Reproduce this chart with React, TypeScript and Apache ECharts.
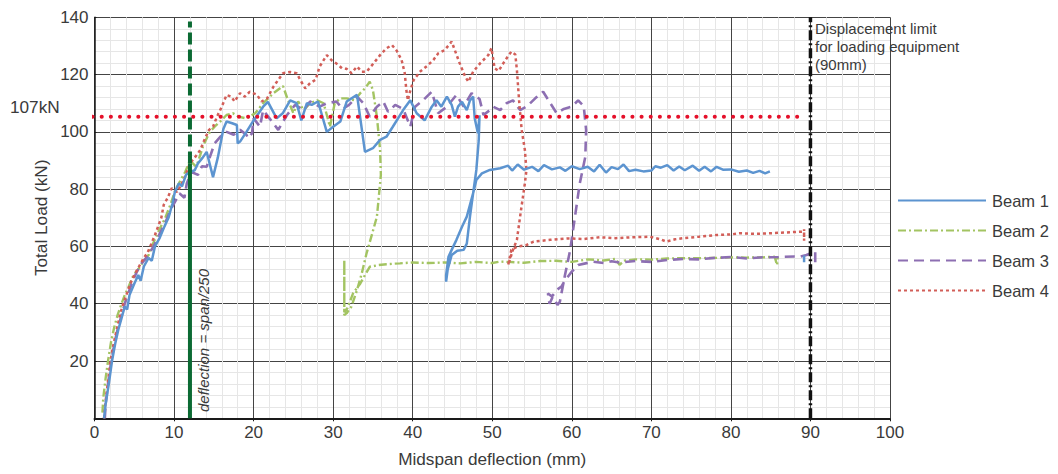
import React, { useEffect, useRef } from "react";
import * as echarts from "echarts";

const xTicks = [0, 10, 20, 30, 40, 50, 60, 70, 80, 90, 100];
const yTicks = [20, 40, 60, 80, 100, 120, 140];
const seriesNames = ["Beam 1", "Beam 2", "Beam 3", "Beam 4"];

const beam1: any[] = [
  [1.2, 0], [1.4, 5], [1.8, 12], [2.2, 20], [2.6, 26], [3.0, 31], [3.4, 35], [3.8, 39], [4.1, 38], [4.4, 43],
  [5.0, 47], [5.5, 50], [5.8, 48], [6.2, 53], [6.8, 56], [7.2, 55], [7.6, 60], [8.2, 63], [8.8, 67], [9.3, 70],
  [9.8, 75], [10.1, 79], [10.6, 82], [11.0, 81], [11.5, 85], [12.0, 86], [12.6, 86.6], [13.0, 89], [13.6, 91],
  [14.1, 93], [14.9, 84.2], [15.5, 91], [16.2, 101], [16.6, 103.6], [17.3, 103], [17.9, 102.4], [18.0, 96],
  [18.3, 96.6], [19.1, 100], [20.0, 104], [21.2, 108.8], [21.8, 110.5], [22.9, 104.7], [23.7, 106.6], [24.6, 111],
  [25.4, 110], [26.0, 104], [26.7, 110], [27.3, 109.4], [28.1, 110.6], [29.2, 100], [30.0, 101.8], [30.9, 103.6],
  [31.7, 110.6], [33.0, 112.9], [34.0, 93], [35.0, 94.3], [35.9, 97.2], [36.7, 98.3], [37.5, 101.8], [38.8, 107.6],
  [39.7, 111], [40.5, 106.5], [41.5, 104], [42.4, 108.8], [43.0, 111], [43.6, 108.8], [44.3, 112.3], [44.9, 109.4],
  [45.3, 105.3], [45.7, 108.8], [46.2, 110.5], [46.8, 107.6], [47.2, 111], [47.6, 112.3], [47.8, 104.7], [48.2, 99.5],
  [48.4, 105.8], [48.3, 97], [48.0, 86.7], [47.6, 78.6], [47.2, 74.5], [46.8, 70.4], [46.2, 66.9], [45.5, 62.3],
  [44.9, 58.8], [44.5, 56.4], [44.2, 50], [44.2, 47.7], [44.4, 52], [44.9, 57], [45.6, 58.5], [46.4, 58.8],
  [46.8, 61], [47.2, 70.4], [47.6, 78.6], [48.0, 83.2], [48.7, 85.5], [49.7, 86.7], [51, 87.3], [52, 88.2],
  [52.5, 86.5], [53.2, 88.6], [54, 86.8], [55, 87.8], [55.8, 86.3], [56.5, 88.4], [57.5, 86.9], [58.5, 87.6],
  [59.2, 86.4], [60, 88], [61, 87], [62, 87.8], [62.8, 86.2], [63.5, 88.5], [64.3, 85.8], [65.0, 87.7], [65.8, 87],
  [66.5, 88.6], [67.2, 86.3], [68, 86.8], [69, 86.2], [70, 86.5], [70.5, 88], [71.2, 87.5], [72, 88.4], [72.8, 86.5],
  [73.5, 87.9], [74.2, 86.6], [75.2, 88.2], [76, 86.4], [76.7, 87.8], [77.5, 86.2], [78.2, 87.8], [79, 86.8],
  [80, 86.9], [81, 86.1], [82, 86.5], [82.8, 85.7], [83.6, 86.4], [84.3, 85.5], [84.9, 86.2],
  "-", [89.2, 54.5], [89.2, 56.8],
];

const beam2: any[] = [
  [1.0, 2], [1.1, 7], [1.4, 14], [1.7, 20], [2.1, 27], [2.5, 32], [2.9, 36], [3.4, 40], [3.8, 43], [4.3, 46],
  [4.9, 50], [5.5, 52], [6.2, 55], [6.8, 57], [7.2, 60], [8.0, 65], [8.9, 70], [9.6, 75], [10.2, 80], [10.8, 83],
  [11.4, 86], [12.0, 90], [12.8, 87.8], [13.7, 95.4], [14.5, 100], [15.1, 101.8], [15.8, 103.6], [16.6, 105.9],
  [17.4, 106.5], [18.1, 105.3], [19.1, 104.7], [20.2, 106.5], [21.2, 110], [22.5, 113.5], [23.7, 116], [24.2, 112],
  [25.0, 106.5], [25.6, 110.6], [26.3, 107.6], [27.1, 110], [28.0, 111], [28.8, 110], [29.6, 101.8], [30.2, 110],
  [30.9, 111.7], [31.7, 111.7], [32.7, 111], [33.4, 113.5], [34.0, 115.2], [34.6, 117.5], [35.0, 114.6],
  [35.5, 105.3], [35.9, 93.7], [36.0, 85], [35.9, 82], [35.5, 70.4], [34.8, 63.4], [34.2, 57.6], [33.6, 50.6],
  [33.0, 44.8], [32.3, 39], [31.7, 36.7], [31.4, 36], [31.4, 55.3], [31.4, 37], [31.8, 38.5], [32.5, 43.6],
  [33.4, 47], [34.0, 50], [34.6, 52.9], [35.7, 53.5], [36.7, 53.8], [38.4, 54.1], [40, 54.4], [42, 54.2],
  [44, 54.4], [46, 54.1], [48, 54.6], [50, 54.2], [51, 54.7], [52, 54.6], [54, 54.3], [56, 54.9], [58, 55],
  [60, 54.6], [62, 55.5], [64, 55.1], [65.5, 55.7], [66, 53.6], [66.6, 55], [68, 55.5], [70, 55.4], [72, 55.8],
  [74, 55.9], [76, 55.9], [78, 56], [80, 56.2], [82, 56.1], [84, 56.2], [85.5, 56.4], [85.8, 53.5], [85.9, 56.4],
];

const beam3: any[] = [
  [1.3, 0], [1.4, 5], [1.7, 12], [2.1, 20], [2.5, 26], [2.9, 31], [3.4, 36], [3.8, 40], [4.3, 44], [4.8, 48],
  [5.3, 51], [5.9, 54], [6.5, 56], [7.0, 58], [7.6, 61], [8.3, 65], [9.0, 69], [9.6, 73], [10.2, 76], [10.7, 78.5],
  [11.3, 77], [11.6, 82], [12.2, 86], [13.0, 85], [13.5, 88], [14.1, 87.8], [14.5, 91.2], [15.1, 96], [16.0, 98.9],
  [16.6, 100], [17.5, 99], [18.3, 100.7], [19.1, 99], [19.3, 97.8], [19.8, 99.5], [20.0, 104.7], [20.8, 101.8],
  [21.2, 107.6], [22.0, 104.7], [23.1, 100.7], [24.2, 105.9], [25.2, 109.4], [26.3, 107.6], [27.1, 110.6],
  [28.3, 108.8], [29.2, 110], [30.4, 110.6], [31.2, 108], [32.0, 109.4], [33.0, 112.3], [33.8, 110], [34.6, 105.3],
  [35.5, 108.8], [36.3, 110.6], [36.9, 107], [37.8, 109.4], [38.8, 108], [39.7, 101.8], [40.3, 108.8], [41.3, 111],
  [42.4, 114], [43.2, 106.5], [44.3, 108.8], [45.5, 112.9], [46.4, 108.8], [47.4, 113.5], [48.4, 111.5],
  [48.9, 105.9], [49.7, 107.6], [50.1, 108.8], [51.0, 107.6], [51.8, 110], [52.6, 111], [53.5, 107.6], [54.4, 109],
  [55.4, 111.7], [56.4, 114], [57.3, 110], [58.1, 106.5], [59.0, 108], [60.0, 108.8], [60.8, 111], [61.5, 109],
  [61.8, 100.7], [61.7, 91.3], [61.0, 82], [60.4, 70.4], [59.8, 58.8], [59.1, 49.4], [58.5, 40.7], [58.2, 39.6],
  [57.6, 42.4], [57.2, 40], [57.0, 43.6], [57.5, 42.5], [58.2, 45], [58.7, 46], [59.1, 48], [60.0, 51.2],
  [60.8, 53.5], [62.7, 54.7], [64, 54.2], [65, 54.8], [66, 54.4], [68, 54.9], [70, 54.6], [72, 55.3], [74, 55.6],
  [76, 55.5], [78, 56.0], [80, 56.3], [82, 55.8], [84, 56.2], [86, 56.3], [88, 56.5], [88.7, 56.4], [89.5, 57],
  [90.6, 58.2], [90.6, 54],
];

const beam4: any[] = [
  [1.2, 0], [1.4, 6], [1.7, 13], [2.0, 20], [2.4, 26], [2.8, 31], [3.2, 36], [3.6, 40], [4.0, 43], [4.5, 47],
  [5.0, 50], [5.6, 53], [6.2, 56], [6.7, 58], [7.0, 60], [7.6, 64], [8.0, 67], [8.4, 70], [8.7, 74.5], [9.2, 77],
  [9.7, 80.3], [10.4, 79], [11.2, 83.2], [12.0, 89], [12.6, 91], [13.3, 93.7], [13.9, 97.8], [14.4, 100.7],
  [14.9, 101.8], [15.4, 105.3], [16.0, 108.8], [16.6, 112.9], [17.2, 112.3], [17.6, 110.6], [18.3, 113.5],
  [18.9, 112.3], [19.5, 114], [20.4, 113], [21.0, 110.6], [21.7, 111.7], [22.5, 115.8], [23.7, 120.5],
  [24.6, 120.9], [25.4, 120.5], [26.0, 117.5], [26.5, 115.2], [27.1, 117], [27.8, 118.2], [28.3, 122.8],
  [29.2, 126.8], [29.8, 125], [30.6, 123.5], [31.1, 122.2], [31.7, 122], [32.3, 120.5], [33.0, 122.8], [33.6, 121],
  [34.2, 121], [35.1, 124], [35.9, 126.8], [36.7, 129.2], [37.4, 130.3], [38.0, 128.3], [38.6, 125.1], [39.0, 120.5],
  [39.2, 114.6], [39.4, 111], [39.6, 113.5], [40.1, 118], [40.9, 121], [41.8, 123], [42.6, 125.1], [43.2, 127.4],
  [44.0, 128.5], [44.9, 131.5], [45.3, 128.5], [45.9, 124], [46.6, 119.3], [47.0, 117.5], [47.6, 121], [48.5, 124],
  [49.5, 126.8], [49.9, 129.2], [50.3, 122.2], [50.8, 121.3], [51.4, 124], [52.0, 126.5], [52.4, 128], [52.9, 127],
  [53.1, 121.6], [53.4, 110], [53.7, 100.7], [54.1, 93.7], [54.3, 86.7], [54.1, 82], [53.5, 70.4], [53.1, 62.3],
  [52.6, 58.8], [52.0, 53.5], [52.4, 58.8], [53.1, 59.9], [54.3, 60.5], [55.2, 61.7], [57.3, 62.3], [59.4, 62.8],
  [61.5, 62.6], [63.5, 63.2], [65.5, 62.9], [67.7, 63.2], [69.8, 63.4], [71, 62.6], [71.9, 61.7], [73, 62.5],
  [74, 62.9], [76, 63.4], [78.2, 64], [80, 64.2], [81.1, 64.6], [83, 64.4], [84.9, 64.6], [87, 64.9], [89.2, 65.2],
  [89.2, 62], [89.2, 66],
];

// reference lines
const spanLimitX = 12;
const spanSolid = [[spanLimitX, 0], [spanLimitX, 89]];
const spanDashed = [[spanLimitX, 89], [spanLimitX, 138.5]];
const dispLimitX = 90;
const dispLimit = [[dispLimitX, 0], [dispLimitX, 140]];
const loadLine = [[-10.6, 105.3], [89, 105.3]];

const FONT = "'Liberation Sans', Arial, Helvetica, sans-serif";
const TXT = "#3a3a3a";

export default function App() {
  const ref = useRef<HTMLDivElement>(null);
  useEffect(() => {
    if (!ref.current) return;
    const chart = echarts.init(ref.current, undefined, { renderer: "svg" });
    const lineSeries = (name: string, data: any[], color: string, type: any, width: number, z: number) => ({
      type: "line",
      name,
      data,
      showSymbol: false,
      symbol: "none",
      connectNulls: false,
      z,
      lineStyle: { color, width, type },
      itemStyle: { color },
    });
    chart.setOption({
      animation: false,
      textStyle: { fontFamily: FONT },
      grid: { left: 94.5, top: 17.3, right: 168, bottom: 55.7, containLabel: false },
      xAxis: {
        type: "value",
        min: xTicks[0],
        max: xTicks[xTicks.length - 1],
        interval: 10,
        name: "Midspan deflection (mm)",
        nameLocation: "middle",
        nameGap: 32,
        nameTextStyle: { fontSize: 17.2, color: TXT, fontFamily: FONT },
        axisLine: { show: true, onZero: false, lineStyle: { color: "#1a1a1a", width: 2 } },
        axisTick: { show: true, length: 3, lineStyle: { color: "#1a1a1a" } },
        minorTick: { show: false, splitNumber: 5 },
        splitLine: { show: true, lineStyle: { color: "#444444", width: 1 } },
        minorSplitLine: { show: true, lineStyle: { color: "#e6e6e6", width: 1 } },
        axisLabel: { fontSize: 17, color: TXT, margin: 6, fontFamily: FONT },
      },
      yAxis: {
        type: "value",
        min: 0,
        max: yTicks[yTicks.length - 1],
        interval: 20,
        name: "Total Load (kN)",
        nameLocation: "middle",
        nameGap: 44,
        nameTextStyle: { fontSize: 17.2, color: TXT, fontFamily: FONT },
        axisLine: { show: true, lineStyle: { color: "#1a1a1a", width: 1.5 } },
        axisTick: { show: true, inside: true, length: 2, lineStyle: { color: "#1a1a1a" } },
        minorTick: { show: false, splitNumber: 5 },
        splitLine: { show: true, lineStyle: { color: "#444444", width: 1 } },
        minorSplitLine: { show: true, lineStyle: { color: "#e6e6e6", width: 1 } },
        axisLabel: {
          fontSize: 17,
          color: TXT,
          margin: 6,
          fontFamily: FONT,
          formatter: (v: number) => (yTicks.indexOf(v) >= 0 ? String(v) : ""),
        },
      },
      legend: {
        data: seriesNames,
        orient: "vertical",
        left: 897,
        top: 192,
        padding: 0,
        itemWidth: 88,
        itemHeight: 16,
        itemGap: 13,
        itemStyle: { opacity: 0 },
        textStyle: { fontSize: 16.5, color: TXT, fontFamily: FONT, padding: [0, 0, 0, 1] },
      },
      graphic: [
        {
          type: "text",
          left: 10,
          top: 98.5,
          z: 100,
          style: { text: "107kN", fontSize: 17.2, fill: TXT, fontFamily: FONT },
        },
        {
          type: "text",
          x: 203.5,
          y: 412,
          z: 100,
          rotation: Math.PI / 2,
          style: {
            text: "deflection = span/250",
            fontSize: 15,
            fontStyle: "italic",
            fill: TXT,
            fontFamily: FONT,
            align: "left",
            verticalAlign: "middle",
          },
        },
        {
          type: "text",
          x: 815,
          y: 19,
          z: 100,
          style: {
            text: "Displacement limit\nfor loading equipment\n(90mm)",
            fontSize: 15,
            lineHeight: 18,
            fill: TXT,
            fontFamily: FONT,
          },
        },
      ],
      series: [
        lineSeries("Beam 2", beam2, "#a3c462", [8, 3, 2, 3], 2.4, 3),
        lineSeries("Beam 3", beam3, "#8d6fb2", [10, 6], 2.6, 3),
        lineSeries("Beam 4", beam4, "#d25e58", [3, 3], 2.5, 4),
        lineSeries("Beam 1", beam1, "#5c94d0", "solid", 2.5, 5),
        {
          type: "line",
          name: "spanSolid",
          data: spanSolid,
          showSymbol: false,
          symbol: "none",
          z: 6,
          lineStyle: { color: "#0b6a33", width: 4, type: "solid" },
        },
        {
          type: "line",
          name: "spanDashed",
          data: spanDashed,
          showSymbol: false,
          symbol: "none",
          z: 6,
          lineStyle: { color: "#0b6a33", width: 4, type: [12, 5] },
        },
        {
          type: "line",
          name: "dispLimit",
          data: dispLimit,
          showSymbol: false,
          symbol: "none",
          z: 6,
          lineStyle: { color: "#111111", width: 3.5, type: [10, 3, 2, 3] },
        },
        {
          type: "line",
          name: "loadLine",
          data: loadLine,
          showSymbol: false,
          symbol: "none",
          clip: false,
          z: 7,
          lineStyle: { color: "#e5102a", width: 4, type: [0.1, 9.05], cap: "round" },
        },
      ],
    });
    return () => chart.dispose();
  }, []);
  return (
    <div
      ref={ref}
      style={{ position: "fixed", left: 0, top: 0, width: 1058, height: 474, background: "#fff" }}
    />
  );
}
